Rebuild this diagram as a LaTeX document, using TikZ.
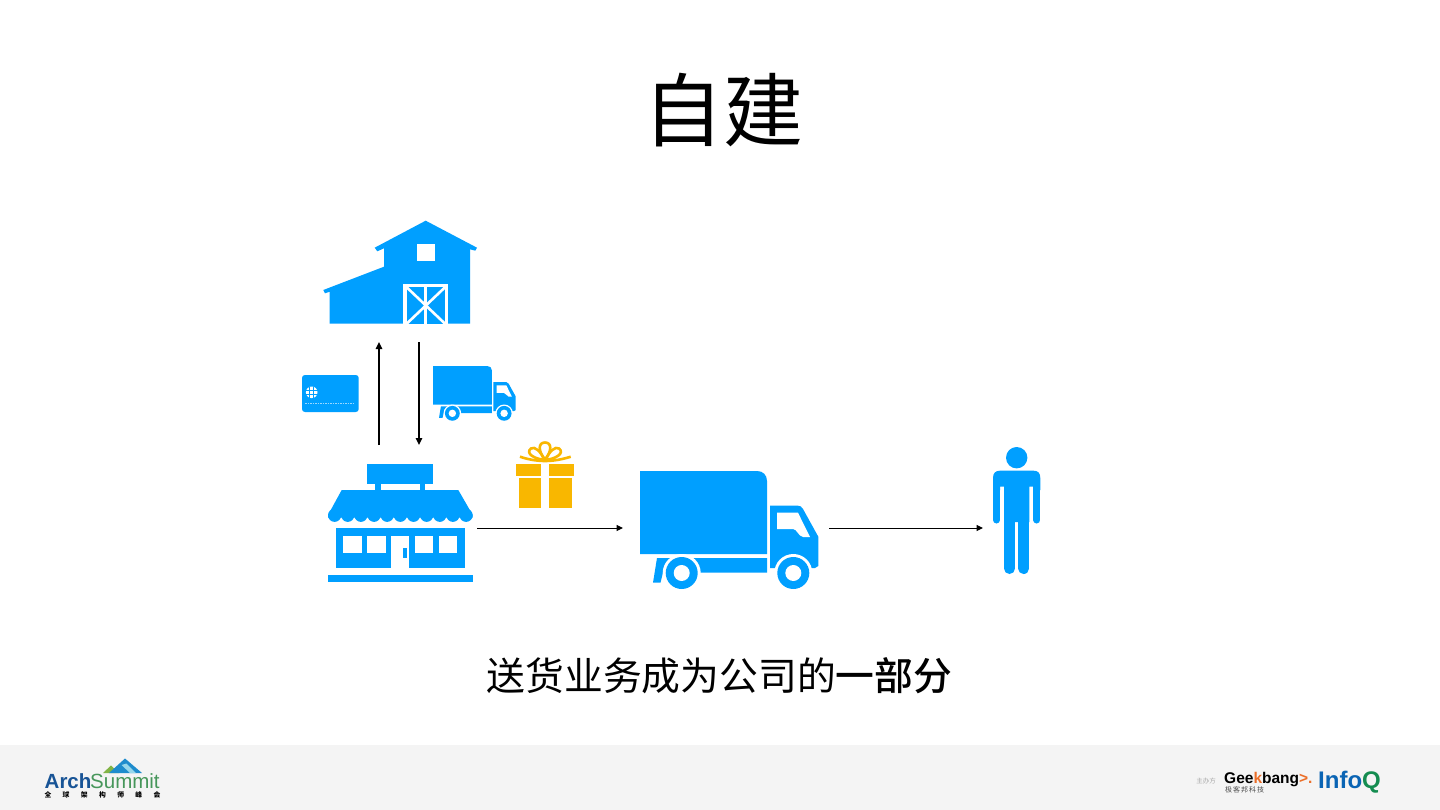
\documentclass[tikz,border=0pt]{standalone}
\usepackage{fontspec}
\usetikzlibrary{arrows.meta}
\newfontfamily\cjk{Noto Sans CJK SC}
\newfontfamily\cjkmed{Noto Sans CJK SC Medium}
\newfontfamily\logofont{Liberation Sans}
\definecolor{iconblue}{RGB}{0,159,255}
\definecolor{giftgold}{RGB}{249,183,0}
\definecolor{footgray}{RGB}{244,244,244}
\definecolor{archblue}{RGB}{24,84,150}
\definecolor{archgreen}{RGB}{70,150,90}
\definecolor{archteal}{RGB}{30,140,205}
\definecolor{archsnow}{RGB}{150,215,235}
\definecolor{archleaf}{RGB}{130,180,70}
\definecolor{infoblue}{RGB}{10,100,180}
\definecolor{infogreen}{RGB}{20,140,80}
\definecolor{bangorange}{RGB}{235,110,40}
\tikzset{
    flow/.style={black, line width=1pt, -{Stealth[length=6.5pt,width=6pt,inset=0pt]}},
    flowv/.style={black, line width=1.5pt, -{Stealth[length=7pt,width=6.5pt,inset=0pt]}},
    icon/.style={fill=iconblue, draw=none},
    hole/.style={fill=white, draw=none},
    gift/.style={fill=giftgold, draw=none},
    bow/.style={draw=giftgold, line width=2.6pt, fill=none},
    truck/.pic={
        \path[icon] (0,0) -- (117,0) .. controls (123,0) and (127,4) .. (127,10) -- (127,83) -- (0,83) -- cycle;
        \path[icon] (17,87) -- (127,87) -- (127,101.7) -- (23,101.7) -- (20.5,111.7) -- (13,111.7) -- cycle;
        \path[icon] (130,34.7) -- (158,34.7) .. controls (160,34.7) and (161.7,35.5) .. (163,38) -- (178.3,65.7) -- (178.3,95) -- (175,97) -- (130,97) -- cycle;
        \path[hole] (137,41.7) -- (158,41.7) -- (170,66) -- (163,66) .. controls (158,65) and (157,58) .. (153,58) -- (137,58) -- cycle;
        \path[hole] (41.7,102) circle (19);
        \path[hole] (153.3,102) circle (19);
        \path[icon] (41.7,102) circle (16);
        \path[icon] (153.3,102) circle (16);
        \path[hole] (41.7,102) circle (8);
        \path[hole] (153.3,102) circle (8);
    }
}
\begin{document}
\begin{tikzpicture}[x=1pt, y=-1pt]
                \useasboundingbox (0,0) rectangle (1440,810);
                \fill[white] (0,0) rectangle (1440,810);
                \fill[footgray] (0,745) rectangle (1440,810);

                \node[inner sep=0pt] (title) at (723.5,110.5) {\cjk\fontsize{80}{96}\selectfont 自建};
                \node[inner sep=0pt] (caption) at (719.5,676) {\cjk\fontsize{38.8}{46}\selectfont 送货业务成为公司的\cjkmed 一部分};

                \path[icon] (425.7,220.7) -- (477,247.7) -- (475.3,250.7) -- (470,249.3) -- (470,323.7) -- (329.7,323.7) -- (329.7,291.7) -- (325,293.3) -- (323.3,290) -- (384,266.7) -- (384,248.3) -- (377.3,251.3) -- (374.7,247.7) -- cycle;
                \path[hole] (416.7,244) rectangle (435.3,261);
                \path[hole] (403.3,284) rectangle (448,323.7);
                \path[icon] (406.7,287.3) rectangle (445,323.7);
                \draw[white, line width=2.6pt] (425.7,287.3) -- (425.7,323.7);
                \draw[white, line width=2.6pt] (406.7,287.3) -- (445,323.7);
                \draw[white, line width=2.6pt] (445,287.3) -- (406.7,323.7);

                \path[icon] (305,375) -- (355.7,375) .. controls (357.5,375) and (358.7,376.2) .. (358.7,378) -- (358.7,409) .. controls (358.7,410.8) and (357.5,412) .. (355.7,412) -- (305,412) .. controls (303.2,412) and (302,410.8) .. (302,409) -- (302,378) .. controls (302,376.2) and (303.2,375) .. (305,375) -- cycle;
                \path[hole] (311.7,392.3) circle (5.8);
                \draw[iconblue, line width=0.7pt] (309.8,386.5) -- (309.8,398.1);
                \draw[iconblue, line width=0.7pt] (313.6,386.5) -- (313.6,398.1);
                \draw[iconblue, line width=0.7pt] (305.9,390.6) -- (317.5,390.6);
                \draw[iconblue, line width=0.7pt] (305.9,394.2) -- (317.5,394.2);
                \draw[white, opacity=0.6, line width=0.7pt, dash pattern=on 1.5pt off 1pt] (305,403.3) -- (355,403.3);

                \pic[scale=0.464] at (433,366) {truck};
                \pic at (640,471) {truck};

                \path[icon] (367.3,464) rectangle (433,483.7);
                \path[icon] (375,483.7) rectangle (381,490.5);
                \path[icon] (420,483.7) rectangle (425.3,490.5);
                \path[icon] (341.7,490) -- (458.3,490) -- (472.7,515) -- (472.7,517.5) -- (328,517.5) -- (328,515) -- cycle;
                \foreach \x in {0,...,10} {
                    \path[icon] (334.6+13.15*\x,515.3) circle (6.6);
                }
                \path[icon] (336,528.3) rectangle (464.7,568.3);
                \path[hole] (343.3,536) rectangle (361.7,553.3);
                \path[hole] (367.3,536) rectangle (385.7,553.3);
                \path[hole] (415,536) rectangle (433,553.3);
                \path[hole] (439,536) rectangle (457,553.3);
                \path[hole] (391.3,536) rectangle (409,568.5);
                \path[icon] (403.3,548.3) rectangle (407,557.7);
                \path[icon] (328,575) rectangle (472.7,582.3);

                \path[gift] (516,464) rectangle (541,475.7);
                \path[gift] (549.3,464) rectangle (574,475.7);
                \path[gift] (519,477.7) rectangle (541,508.3);
                \path[gift] (549.3,477.7) rectangle (571.7,508.3);
                \draw[bow] (545,460) .. controls (538,451) and (538,442.5) .. (545,442.5) .. controls (552,442.5) and (552,451) .. (545,460);
                \draw[bow] (545,460) .. controls (534,459) and (525,453) .. (531,448.5) .. controls (535,446) and (540,451) .. (545,460);
                \draw[bow] (545,460) .. controls (556,459) and (565,453) .. (559,448.5) .. controls (555,446) and (550,451) .. (545,460);
                \draw[bow] (520,456.7) .. controls (528,459.5) and (537,461) .. (545,461) .. controls (553,461) and (562,459.5) .. (570.7,456.7);

                \path[icon] (1016.7,457.7) circle (10.7);
                \path[icon] (1000,470.7) -- (1033.5,470.7) .. controls (1038,470.7) and (1040.3,473) .. (1040.3,478) -- (1040.3,490) -- (1033.3,490) -- (1033.3,486.7) -- (1029.3,486.7) -- (1029.3,522) -- (1004,522) -- (1004,486.7) -- (1000,486.7) -- (1000,490) -- (993,490) -- (993,478) .. controls (993,473) and (995.5,470.7) .. (1000,470.7) -- cycle;
                \draw[iconblue, line width=7pt, line cap=round] (996.5,485) -- (996.5,520);
                \draw[iconblue, line width=7pt, line cap=round] (1036.8,485) -- (1036.8,520);
                \draw[iconblue, line width=11pt, line cap=round] (1009.5,515) -- (1009.5,568.5);
                \draw[iconblue, line width=11pt, line cap=round] (1023.8,515) -- (1023.8,568.5);

                \coordinate (shopup) at (379,445);
                \coordinate (barnup) at (379,342);
                \coordinate (barndown) at (419,342);
                \coordinate (shopdown) at (419,445);
                \coordinate (shopout) at (477,528);
                \coordinate (truckin) at (623,528);
                \coordinate (truckout) at (829,528);
                \coordinate (personin) at (983,528);
                \draw[flowv] (shopup) -- (barnup);
                \draw[flowv] (barndown) -- (shopdown);
                \draw[flow] (shopout) -- (truckin);
                \draw[flow] (truckout) -- (personin);

                \fill[archleaf] (103,773) -- (111,765.5) -- (119,773) -- cycle;
                \fill[archteal] (109,773) -- (125,758.5) -- (142,773) -- cycle;
                \fill[archsnow] (121.5,765) -- (126.5,763.5) -- (136,773) -- (130,773) -- cycle;
                \node[inner sep=0pt, anchor=base west] (archname) at (44.5,788) {\logofont\fontsize{20.5}{22}\selectfont\bfseries\textcolor{archblue}{Arch}};
                \node[inner sep=0pt, anchor=base west] (summitname) at (90,788) {\logofont\fontsize{20.5}{22}\selectfont\textcolor{archgreen}{Summit}};
                \node[inner sep=0pt, anchor=center] (archsub) at (102.5,794.5) {\cjk\fontsize{6.8}{7}\selectfont\bfseries 全\hspace{11.4pt}球\hspace{11.4pt}架\hspace{11.4pt}构\hspace{11.4pt}师\hspace{11.4pt}峰\hspace{11.4pt}会};

                \node[inner sep=0pt, text=gray!70] (host) at (1206,781) {\cjk\fontsize{6.5}{7}\selectfont 主办方};
                \node[inner sep=0pt, anchor=base west] (geek) at (1224,783) {\logofont\fontsize{15.5}{17}\selectfont\bfseries Gee\textcolor{bangorange}{k}bang\textcolor{bangorange}{>.}};
                \node[inner sep=0pt, anchor=center, text=black!70] (geeksub) at (1244.5,790) {\cjk\fontsize{7}{8}\selectfont 极\hspace{1pt}客\hspace{1pt}邦\hspace{1pt}科\hspace{1pt}技};
                \node[inner sep=0pt, anchor=base west] (infoq) at (1318,788) {\logofont\fontsize{24}{26}\selectfont\bfseries\textcolor{infoblue}{Info}\textcolor{infogreen}{Q}};
\end{tikzpicture}
\end{document}
